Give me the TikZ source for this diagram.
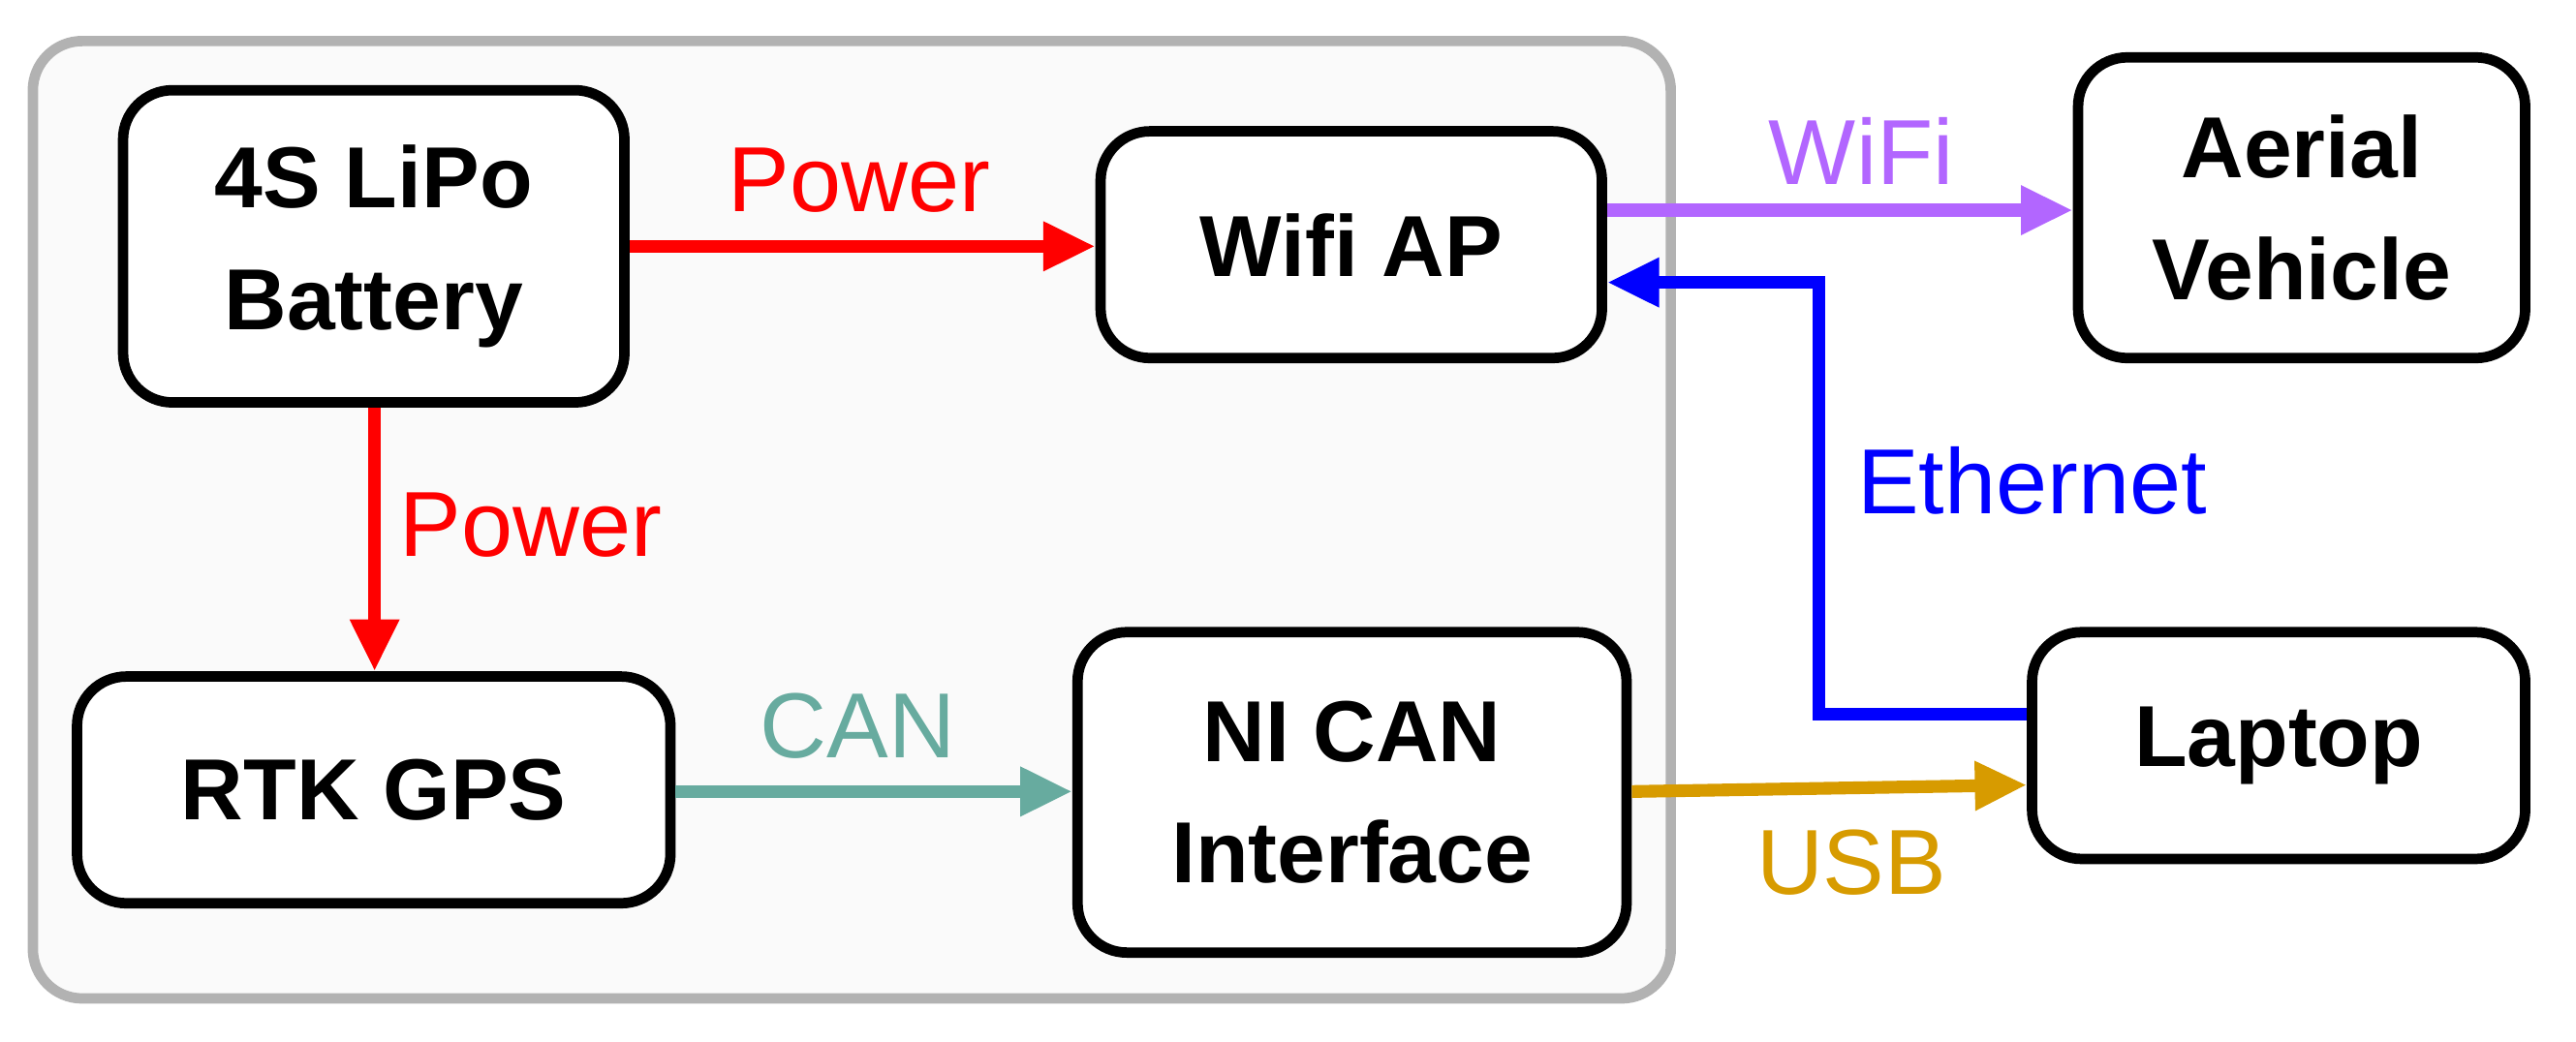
\documentclass[tikz,border=0pt]{standalone}
\usepackage{fontspec}
\setmainfont{Liberation Sans}
\usetikzlibrary{arrows.meta}
\definecolor{canc}{HTML}{67AB9F}
\definecolor{wific}{HTML}{B266FF}
\definecolor{usbc}{HTML}{D79B00}
\begin{document}
\begin{tikzpicture}[x=0.01cm,y=-0.01cm,
  box/.style={draw=black,line width=1.8pt,rounded corners=0.3cm,fill=white,font=\fontsize{15}{21}\selectfont\bfseries,align=center,inner sep=0pt,minimum width=#1},
  conn/.style={line width=2.2pt,-{Triangle[length=9pt,width=8pt]}},
  lab/.style={font=\fontsize{16}{19}\selectfont}]
\useasboundingbox (0,0) rectangle (1568,634);
\draw[draw=black!30,line width=1.8pt,fill=black!2,rounded corners=0.3cm] (20,25) rectangle (1017,608);
\node[box=3.05cm,minimum height=1.9cm] (bat) at (227.5,150) {4S LiPo\\Battery};
\node[box=3.05cm,minimum height=1.38cm] (wifi) at (822.5,149) {Wifi AP};
\node[box=2.72cm,minimum height=1.83cm] (aerial) at (1401,126.5) {Aerial\\Vehicle};
\node[box=3.61cm,minimum height=1.38cm] (rtk) at (227.5,481) {RTK GPS};
\node[box=3.34cm,minimum height=1.95cm] (nican) at (823,482.5) {NI CAN\\Interface};
\node[box=3.0cm,minimum height=1.38cm] (laptop) at (1387,454) {Laptop};
\draw[conn,red] (bat.east) -- (wifi.west|-bat.east);
\draw[conn,red] (bat.south-|228,0) -- (rtk.north-|228,0);
\draw[conn,canc] (rtk.east|-0,482) -- (nican.west|-0,482);
\draw[conn,wific] (wifi.east|-0,128) -- (aerial.west|-0,128);
\draw[conn,blue] (laptop.west|-0,435) -- (1107,435) -- (1107,172) -- (wifi.east|-0,172);
\draw[conn,usbc] (nican.east|-0,482) -- (laptop.west|-0,478);
\node[lab,red] (l1) at (523,110) {Power};
\node[lab,red] (l2) at (323,320) {Power};
\node[lab,canc] (l3) at (522,442) {CAN};
\node[lab,wific] (l4) at (1133,92) {WiFi};
\node[lab,blue] (l5) at (1237,293) {Ethernet};
\node[lab,usbc] (l6) at (1127,525) {USB};
\end{tikzpicture}
\end{document}
